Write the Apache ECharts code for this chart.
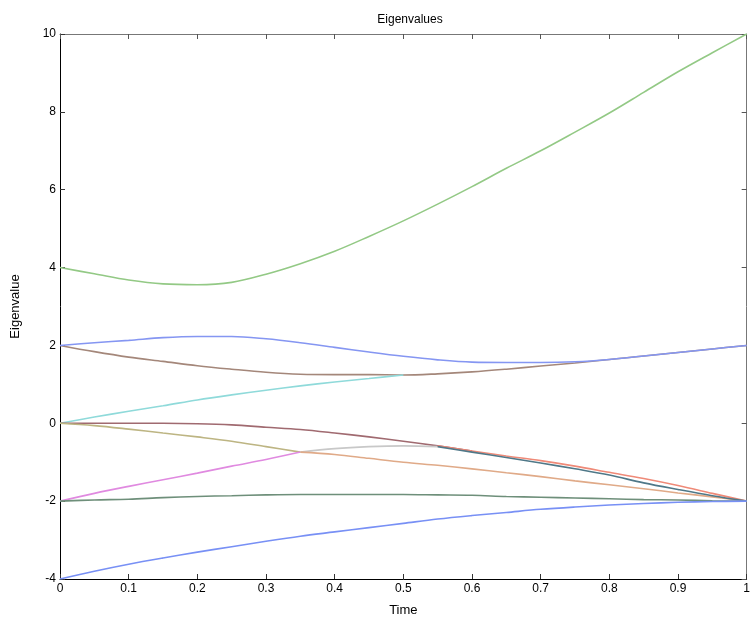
<!DOCTYPE html>
<html>
<head>
<meta charset="utf-8">
<script src="https://cdn.jsdelivr.net/npm/echarts@6/dist/echarts.min.js"></script>
<style>html,body{margin:0;padding:0;background:#fff}#c{width:753px;height:622px}</style>
</head>
<body>
<div id="c"></div>
<script>
var times = [0,0.05,0.1,0.15,0.2,0.25,0.3,0.35,0.4,0.45,0.5,0.55,0.6,0.65,0.7,0.75,0.8,0.85,0.9,0.95,1];
var xTicks = ['0','0.1','0.2','0.3','0.4','0.5','0.6','0.7','0.8','0.9','1'];
var yTicks = ['-4','-2','0','2','4','6','8','10'];

var greenTop   = [4.0,3.84,3.68,3.58,3.56,3.62,3.83,4.1,4.42,4.8,5.2,5.63,6.08,6.55,7.0,7.48,7.97,8.5,9.03,9.52,10];
var blueUpper  = [2.0,2.07,2.13,2.2,2.23,2.23,2.17,2.07,1.95,1.83,1.72,1.63,1.57,1.56,1.56,1.58,1.64,1.73,1.82,1.91,2.0];
var brownUpper = [2.0,1.84,1.7,1.59,1.48,1.39,1.31,1.26,1.25,1.25,1.24,1.27,1.32,1.39,1.47,1.55,1.64,1.73,1.82,1.91,2.0];
var cyanMid    = [0,0.16,0.31,0.45,0.6,0.73,0.85,0.96,1.06,1.15,1.24,null,null,null,null,null,null,null,null,null,null];
var darkRed    = [0,0,0,0,-0.01,-0.04,-0.1,-0.16,-0.25,-0.35,-0.46,-0.58,-0.71,null,null,null,null,null,null,null,null];
var salmon     = [null,null,null,null,null,null,null,null,null,null,null,-0.58,-0.71,-0.84,-0.96,-1.1,-1.26,-1.42,-1.6,-1.8,-2.0];
var tealLow    = [null,null,null,null,null,null,null,null,null,null,null,-0.6,-0.74,-0.88,-1.02,-1.17,-1.33,-1.53,-1.7,-1.86,-2.0];
var olive      = [0,-0.06,-0.15,-0.25,-0.35,-0.46,-0.6,-0.74,null,null,null,null,null,null,null,null,null,null,null,null,null];
var pink       = [-2.0,-1.8,-1.62,-1.45,-1.28,-1.1,-0.93,-0.74,null,null,null,null,null,null,null,null,null,null,null,null,null];
var grayMid    = [null,null,null,null,null,null,null,-0.74,-0.65,-0.6,-0.58,-0.6,null,null,null,null,null,null,null,null,null];
var orange     = [null,null,null,null,null,null,null,-0.74,-0.8,-0.9,-1.0,-1.08,-1.17,-1.27,-1.37,-1.48,-1.58,-1.68,-1.79,-1.89,-2.0];
var darkGreen  = [-2.0,-1.97,-1.95,-1.91,-1.88,-1.86,-1.84,-1.83,-1.83,-1.83,-1.83,-1.84,-1.85,-1.88,-1.9,-1.92,-1.94,-1.96,-1.97,-1.99,-2.0];
var blueLower  = [-4.0,-3.8,-3.62,-3.46,-3.31,-3.17,-3.03,-2.9,-2.79,-2.68,-2.57,-2.46,-2.37,-2.29,-2.21,-2.15,-2.1,-2.06,-2.03,-2.01,-2.0];

function pairs(vals){ var out=[]; for (var i=0;i<times.length;i++){ if (vals[i]!==null) out.push([times[i], vals[i]]); } return out; }
function line(name, vals, color, w){
  return {name:name, type:'line', data:pairs(vals), showSymbol:false, smooth:0.35,
    lineStyle:{color:color, width:w||1.6}, itemStyle:{color:color}, silent:true, z:2};
}
var font = 'Liberation Sans, Arial, sans-serif';
var chart = echarts.init(document.getElementById('c'));
chart.setOption({
  animation:false,
  backgroundColor:'#fff',
  title:{text:'Eigenvalues', left:405, top:9, textAlign:'center',
    textStyle:{fontFamily:font, fontSize:12, fontWeight:'normal', color:'#000'}},
  grid:{left:60, right:2, top:34, bottom:42},
  xAxis:[{type:'value', min:0, max:1, interval:0.1, position:'bottom',
    name:'Time', nameLocation:'middle', nameGap:25,
    nameTextStyle:{fontFamily:font, fontSize:13, color:'#000'},
    axisLine:{onZero:false, lineStyle:{color:'#000', width:1}},
    axisTick:{inside:true, length:5, lineStyle:{color:'#333'}},
    axisLabel:{fontFamily:font, fontSize:12, color:'#000', margin:4,
      formatter:function(v){ var i=Math.round(v*10); return xTicks[i]; }},
    splitLine:{show:false}},
   {type:'value', min:0, max:1, interval:0.1, position:'top',
    axisLine:{onZero:false, lineStyle:{color:'#777', width:1}},
    axisTick:{inside:true, length:5, lineStyle:{color:'#555'}},
    axisLabel:{show:false}, splitLine:{show:false}}],
  yAxis:[{type:'value', min:-4, max:10, interval:2, position:'left',
    name:'Eigenvalue', nameLocation:'middle', nameGap:38, nameRotate:90,
    nameTextStyle:{fontFamily:font, fontSize:13, color:'#000'},
    axisLine:{onZero:false, lineStyle:{color:'#000', width:1}},
    axisTick:{inside:true, length:5, lineStyle:{color:'#333'}},
    axisLabel:{fontFamily:font, fontSize:12, color:'#000', margin:4,
      formatter:function(v){ var i=Math.round((v+4)/2); return yTicks[i]; }},
    splitLine:{show:false}},
   {type:'value', min:-4, max:10, interval:2, position:'right',
    axisLine:{onZero:false, lineStyle:{color:'#777', width:1}},
    axisTick:{inside:true, length:5, lineStyle:{color:'#555'}},
    axisLabel:{show:false}, splitLine:{show:false}}],
  series:[
    line('green', greenTop, '#93c985'),
    line('brown', brownUpper, '#a4877a'),
    line('blue upper', blueUpper, '#8596f2'),
    line('cyan', cyanMid, '#8fdada'),
    line('dark red', darkRed, '#a06a70'),
    line('olive', olive, '#bdb583'),
    line('pink', pink, '#e08ae0'),
    line('gray', grayMid, '#c8c8c8'),
    line('orange', orange, '#e0aa88'),
    line('salmon', salmon, '#ef8a78'),
    line('teal', tealLow, '#4f7888'),
    line('dark green', darkGreen, '#6e8f7a'),
    line('blue lower', blueLower, '#7890f5')
  ]
});
</script>
</body>
</html>
